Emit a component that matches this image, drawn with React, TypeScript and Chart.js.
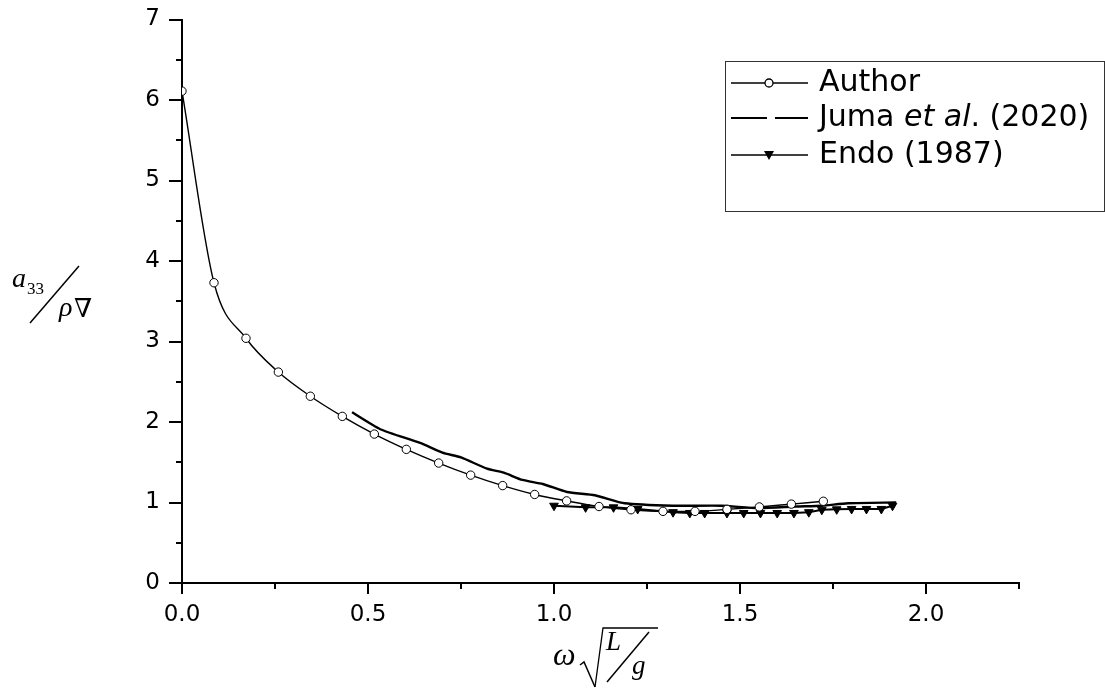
import React, { useEffect, useRef } from "react";
import { Chart, registerables } from "chart.js";

Chart.register(...registerables);

// Author (present method)
const authorX = [0, 0.086, 0.172, 0.259, 0.345, 0.431, 0.517, 0.603, 0.69, 0.776, 0.862, 0.948, 1.034, 1.121, 1.207, 1.293, 1.379, 1.465, 1.552, 1.638, 1.724];
const authorY = [6.11, 3.73, 3.04, 2.62, 2.32, 2.07, 1.85, 1.66, 1.49, 1.34, 1.21, 1.1, 1.02, 0.95, 0.91, 0.89, 0.89, 0.915, 0.945, 0.98, 1.015];

// Juma et al. (2020)
const jumaX = [0.457, 0.533, 0.64, 0.7, 0.75, 0.82, 0.865, 0.915, 0.97, 1.035, 1.11, 1.19, 1.32, 1.45, 1.55, 1.65, 1.72, 1.79, 1.92];
const jumaY = [2.12, 1.91, 1.74, 1.62, 1.56, 1.42, 1.37, 1.28, 1.23, 1.13, 1.09, 0.99, 0.96, 0.96, 0.93, 0.95, 0.96, 0.99, 1.0];

// Endo (1987)
const endoX = [1.0, 1.085, 1.16, 1.225, 1.32, 1.365, 1.405, 1.465, 1.51, 1.555, 1.6, 1.645, 1.685, 1.72, 1.76, 1.8, 1.84, 1.88, 1.91];
const endoY = [0.96, 0.94, 0.94, 0.92, 0.88, 0.87, 0.87, 0.87, 0.87, 0.87, 0.87, 0.87, 0.88, 0.91, 0.915, 0.92, 0.92, 0.92, 0.96];

const legendLabels = ["Author", "Juma et al. (2020)", "Endo (1987)"];

const X_MIN = 0;
const X_MAX = 2.25;
const Y_MIN = 0;
const Y_MAX = 7;

const toPoints = (xs: number[], ys: number[]) => xs.map((x, i) => ({ x, y: ys[i] }));

const SANS = "'DejaVu Sans', sans-serif";
const SERIF = "'Liberation Serif', 'DejaVu Serif', serif";

const decorPlugin = {
  id: "decor",
  afterDraw(chart: any) {
    const ctx: CanvasRenderingContext2D = chart.ctx;
    const xs = chart.scales.x;
    const ys = chart.scales.y;
    const area = chart.chartArea;
    ctx.save();
    ctx.strokeStyle = "#000";
    ctx.fillStyle = "#000";
    // ticks on Y
    ctx.lineWidth = 2;
    for (let v = Y_MIN; v <= Y_MAX + 1e-9; v += 0.5) {
      const py = Math.round(ys.getPixelForValue(v));
      const major = Math.abs(v - Math.round(v)) < 1e-6;
      const len = major ? 13 : 6;
      ctx.beginPath();
      ctx.moveTo(area.left - len, py);
      ctx.lineTo(area.left, py);
      ctx.stroke();
    }
    // ticks on X
    for (let v = X_MIN; v <= X_MAX + 1e-9; v += 0.25) {
      const px = Math.round(xs.getPixelForValue(v));
      const major = Math.abs(v * 2 - Math.round(v * 2)) < 1e-6;
      const len = major ? 11 : 6;
      ctx.beginPath();
      ctx.moveTo(px, area.bottom);
      ctx.lineTo(px, area.bottom + len);
      ctx.stroke();
    }

    // Legend
    ctx.lineWidth = 1;
    ctx.strokeStyle = "#333";
    ctx.strokeRect(725.5, 61.5, 379, 150);
    ctx.strokeStyle = "#000";
    const lx0 = 731, lx1 = 808, lmid = 769;
    const rows = [83, 118, 155];
    // Author sample
    ctx.lineWidth = 1.3;
    ctx.beginPath();
    ctx.moveTo(lx0, rows[0]);
    ctx.lineTo(lx1, rows[0]);
    ctx.stroke();
    ctx.beginPath();
    ctx.arc(lmid, rows[0], 4, 0, Math.PI * 2);
    ctx.fillStyle = "#fff";
    ctx.fill();
    ctx.stroke();
    // Juma sample
    ctx.lineWidth = 2.2;
    ctx.beginPath();
    ctx.moveTo(lx0, rows[1]);
    ctx.lineTo(767, rows[1]);
    ctx.moveTo(775, rows[1]);
    ctx.lineTo(lx1, rows[1]);
    ctx.stroke();
    // Endo sample
    ctx.lineWidth = 1.3;
    ctx.beginPath();
    ctx.moveTo(lx0, rows[2]);
    ctx.lineTo(lx1, rows[2]);
    ctx.stroke();
    ctx.fillStyle = "#000";
    ctx.beginPath();
    ctx.moveTo(lmid - 5, rows[2] - 4);
    ctx.lineTo(lmid + 5, rows[2] - 4);
    ctx.lineTo(lmid, rows[2] + 5);
    ctx.closePath();
    ctx.fill();

    // Legend text
    ctx.fillStyle = "#000";
    ctx.textBaseline = "middle";
    ctx.textAlign = "left";
    const tx = 819;
    ctx.font = `30px ${SANS}`;
    ctx.fillText(legendLabels[0], tx, rows[0]);
    let cx = tx;
    const p1 = "Juma ";
    ctx.fillText(p1, cx, rows[1]);
    cx += ctx.measureText(p1).width;
    ctx.font = `italic 30px ${SANS}`;
    const p2 = "et al";
    ctx.fillText(p2, cx, rows[1]);
    cx += ctx.measureText(p2).width;
    ctx.font = `30px ${SANS}`;
    ctx.fillText(". (2020)", cx, rows[1]);
    ctx.fillText(legendLabels[2], tx, rows[2]);

    // Y axis title: a33 / rho nabla
    ctx.textBaseline = "alphabetic";
    ctx.font = `italic 28px ${SERIF}`;
    ctx.fillText("a", 12, 287);
    ctx.font = `17px ${SERIF}`;
    ctx.fillText("33", 27, 294);
    ctx.lineWidth = 1.5;
    ctx.beginPath();
    ctx.moveTo(79, 266);
    ctx.lineTo(30, 323);
    ctx.stroke();
    ctx.font = `italic 28px ${SERIF}`;
    ctx.fillText("ρ", 59, 316);
    ctx.font = `26px ${SERIF}`;
    ctx.fillText("∇", 74, 317);

    // X axis title: omega sqrt(L/g)
    ctx.font = `italic 32px ${SERIF}`;
    ctx.fillText("ω", 553, 665);
    ctx.lineWidth = 1.5;
    ctx.beginPath();
    ctx.moveTo(580, 665);
    ctx.lineTo(584, 662);
    ctx.lineTo(595, 687);
    ctx.stroke();
    ctx.lineWidth = 1.3;
    ctx.beginPath();
    ctx.moveTo(595, 687);
    ctx.lineTo(603, 628);
    ctx.lineTo(658, 628);
    ctx.stroke();
    ctx.font = `italic 27px ${SERIF}`;
    ctx.fillText("L", 606, 650);
    ctx.lineWidth = 1.5;
    ctx.beginPath();
    ctx.moveTo(649, 632);
    ctx.lineTo(607, 682);
    ctx.stroke();
    ctx.fillText("g", 632, 674);

    ctx.restore();
  },
};

export default function App() {
  const canvasRef = useRef<HTMLCanvasElement | null>(null);

  useEffect(() => {
    if (!canvasRef.current) return;
    const chart = new Chart(canvasRef.current, {
      type: "line",
      data: {
        datasets: [
          {
            label: legendLabels[0],
            data: toPoints(authorX, authorY),
            borderColor: "#000",
            borderWidth: 1.4,
            cubicInterpolationMode: "monotone",
            pointRadius: 4.2,
            pointBackgroundColor: "#fff",
            pointBorderColor: "#000",
            pointBorderWidth: 1,
            fill: false,
          },
          {
            label: legendLabels[1],
            data: toPoints(jumaX, jumaY),
            borderColor: "#000",
            borderWidth: 2.4,
            tension: 0.2,
            pointRadius: 0,
            fill: false,
          },
          {
            label: legendLabels[2],
            data: toPoints(endoX, endoY),
            borderColor: "#000",
            borderWidth: 2,
            tension: 0,
            pointStyle: "triangle",
            rotation: 180,
            pointRadius: 5,
            pointBackgroundColor: "#000",
            pointBorderColor: "#000",
            pointBorderWidth: 1,
            fill: false,
          },
        ],
      },
      options: {
        animation: false,
        responsive: false,
        devicePixelRatio: 1,
        layout: { padding: { top: 19.5, right: 86, left: 0, bottom: 0 } },
        plugins: {
          legend: { display: false },
          tooltip: { enabled: false },
          title: { display: false },
        },
        scales: {
          x: {
            type: "linear",
            min: X_MIN,
            max: X_MAX,
            grid: { display: false, drawTicks: false },
            border: { display: true, color: "#000", width: 2 },
            ticks: {
              stepSize: 0.5,
              padding: 18,
              color: "#000",
              font: { family: SANS, size: 23 },
              maxRotation: 0,
              autoSkip: false,
              callback: (v: any) => {
                const n = Number(v);
                return Math.abs(n * 2 - Math.round(n * 2)) < 1e-6 ? n.toFixed(1) : "";
              },
            },
            afterFit: (scale: any) => {
              scale.height = 108;
              scale.paddingLeft = 0;
              scale.paddingRight = 0;
            },
          },
          y: {
            type: "linear",
            min: Y_MIN,
            max: Y_MAX,
            grid: { display: false, drawTicks: false },
            border: { display: true, color: "#000", width: 2 },
            ticks: {
              stepSize: 1,
              padding: 22,
              color: "#000",
              font: { family: SANS, size: 23 },
              callback: (v: any) => String(Number(v)),
            },
            afterFit: (scale: any) => {
              scale.width = 182;
              scale.paddingTop = 0;
              scale.paddingBottom = 0;
            },
          },
        },
      },
      plugins: [decorPlugin],
    });
    return () => chart.destroy();
  }, []);

  return (
    <div style={{ position: "absolute", left: 0, top: 0, width: 1105, height: 691, background: "#fff" }}>
      <canvas ref={canvasRef} width={1105} height={691} />
    </div>
  );
}
